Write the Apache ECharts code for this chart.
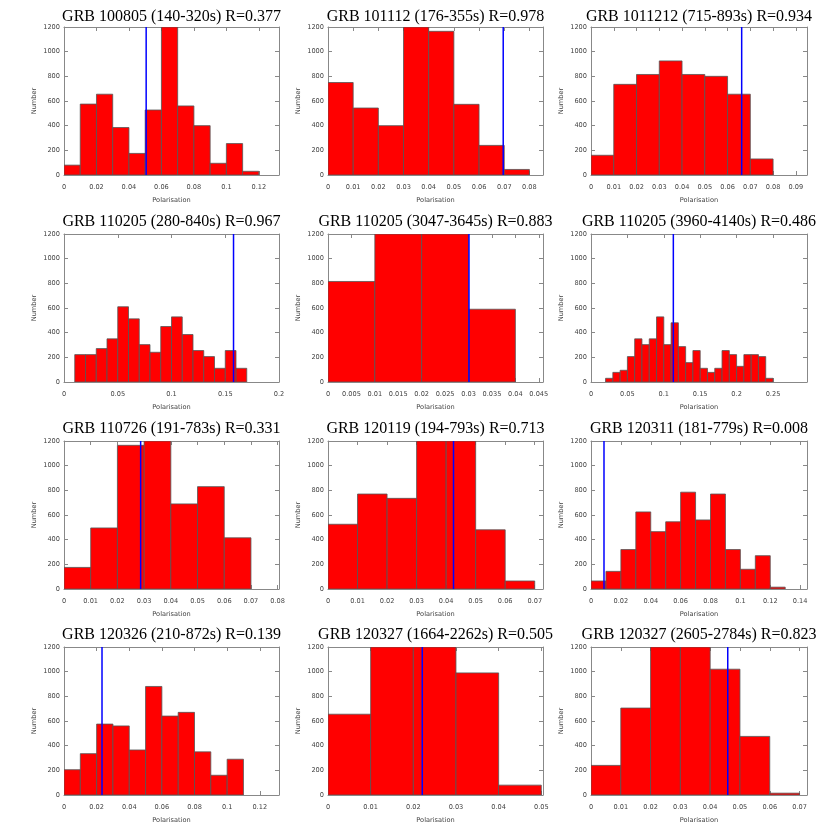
<!DOCTYPE html>
<html>
<head>
<meta charset="utf-8">
<script src="https://cdn.jsdelivr.net/npm/echarts@6/dist/echarts.min.js"></script>
<style>
html, body { margin: 0; padding: 0; background: #fff; }
#main { width: 827px; height: 827px; }
</style>
</head>
<body>
<div id="main"></div>
<script>
// panel titles, row by row
const titles = [
  'GRB 100805 (140-320s) R=0.377',
  'GRB 101112 (176-355s) R=0.978',
  'GRB 1011212 (715-893s) R=0.934',
  'GRB 110205 (280-840s) R=0.967',
  'GRB 110205 (3047-3645s) R=0.883',
  'GRB 110205 (3960-4140s) R=0.486',
  'GRB 110726 (191-783s) R=0.331',
  'GRB 120119 (194-793s) R=0.713',
  'GRB 120311 (181-779s) R=0.008',
  'GRB 120326 (210-872s) R=0.139',
  'GRB 120327 (1664-2262s) R=0.505',
  'GRB 120327 (2605-2784s) R=0.823'
];

// histogram bins are 0.01 wide, first bin starts at binStart
const binWidth = 0.01;
const binStart = [0, 0, 0, 0.01, 0, 0.02, 0, 0, 0, 0, 0, 0];

const counts1 = [80, 575, 655, 385, 175, 527, 1250, 560, 400, 95, 255, 30];
const counts2 = [750, 543, 400, 1250, 1165, 573, 240, 45];
const counts3 = [160, 735, 815, 925, 815, 800, 655, 130];
const counts4 = [222, 222, 271, 350, 610, 512, 303, 241, 450, 528, 385, 255, 206, 111, 255, 111];
const counts5 = [815, 1300, 1300, 590];
const counts6 = [30, 78, 95, 206, 350, 303, 350, 528, 303, 480, 287, 157, 255, 111, 78, 111, 255, 222, 127, 222, 222, 206, 30];
const counts7 = [175, 495, 1165, 1250, 690, 830, 415];
const counts8 = [525, 770, 735, 1250, 1250, 480, 65];
const counts9 = [65, 143, 320, 625, 465, 545, 785, 560, 770, 320, 160, 270, 15];
const counts10 = [205, 335, 575, 560, 365, 880, 640, 670, 350, 160, 290];
const counts11 = [655, 1300, 1300, 990, 80];
const counts12 = [240, 705, 1300, 1300, 1020, 475, 15];
const allCounts = [counts1, counts2, counts3, counts4, counts5, counts6,
                   counts7, counts8, counts9, counts10, counts11, counts12];

// blue marker (measured polarisation)
const blueLine = [0.0506, 0.0696, 0.0662, 0.1577, 0.0301, 0.1131, 0.0287, 0.0425, 0.0087, 0.0233, 0.0221, 0.0459];

// x axis range and tick step per panel
const xMax = [0.1324, 0.0854, 0.0949, 0.2, 0.0459, 0.2967, 0.0805, 0.0728, 0.1446, 0.1318, 0.0504, 0.0725];
const xStep = [0.02, 0.01, 0.01, 0.05, 0.005, 0.05, 0.01, 0.01, 0.02, 0.02, 0.01, 0.01];

// y axis
const yMax = 1200;
const yStep = 200;

// layout of the 4x3 panels
const colLeft = [64, 328, 591];
const colWidth = [215, 215, 216];
const rowTop = [27, 234, 441, 647];
const rowTitleTop = [9, 214, 421, 627];
const plotHeight = 148;

const frameColor = '#888';
const labelColor = '#444';
const smallFont = 'DejaVu Sans';

function xTicks(i) {
  let t = [];
  for (let k = 0; k * xStep[i] <= xMax[i] + 1e-9; k++) {
    t.push(Math.round(k * xStep[i] * 1e6) / 1e6);
  }
  return t;
}

let grid = [], xAxis = [], yAxis = [], series = [], title = [];

for (let i = 0; i < 12; i++) {
  let r = Math.floor(i / 3), c = i % 3;
  grid.push({
    left: colLeft[c], top: rowTop[r], width: colWidth[c], height: plotHeight,
    containLabel: false
  });
  title.push({
    text: titles[i],
    left: colLeft[c] + colWidth[c] / 2,
    top: rowTitleTop[r],
    textAlign: 'center',
    padding: 0,
    textStyle: { fontFamily: 'Liberation Serif', fontSize: 16, fontWeight: 'normal', color: '#000' }
  });

  let ticks = xTicks(i);
  let axisLine = { show: true, onZero: false, lineStyle: { color: frameColor, width: 1 } };
  // bottom x axis
  xAxis.push({
    type: 'value', gridIndex: i, min: 0, max: xMax[i], position: 'bottom',
    name: 'Polarisation', nameLocation: 'middle', nameGap: 22,
    nameTextStyle: { fontFamily: smallFont, fontSize: 6.6, color: labelColor },
    axisLine: axisLine,
    axisTick: { show: true, inside: true, length: 4, customValues: ticks, lineStyle: { color: frameColor } },
    axisLabel: {
      customValues: ticks, margin: 9, fontFamily: smallFont, fontSize: 6.6, color: labelColor,
      formatter: function (v) { return String(+v.toFixed(4)); }
    },
    splitLine: { show: false }
  });
  // top x axis (frame + mirrored ticks)
  xAxis.push({
    type: 'value', gridIndex: i, min: 0, max: xMax[i], position: 'top',
    axisLine: axisLine,
    axisTick: { show: true, inside: true, length: 4, customValues: ticks, lineStyle: { color: frameColor } },
    axisLabel: { show: false },
    splitLine: { show: false }
  });
  // left y axis
  yAxis.push({
    type: 'value', gridIndex: i, min: 0, max: yMax, interval: yStep, position: 'left',
    name: 'Number', nameLocation: 'middle', nameGap: 26, nameRotate: 90,
    nameTextStyle: { fontFamily: smallFont, fontSize: 6.6, color: labelColor },
    axisLine: axisLine,
    axisTick: { show: true, inside: true, length: 4, lineStyle: { color: frameColor } },
    axisLabel: {
      margin: 4, fontFamily: smallFont, fontSize: 6.6, color: labelColor,
      formatter: function (v) { return String(v); }
    },
    splitLine: { show: false }
  });
  // right y axis
  yAxis.push({
    type: 'value', gridIndex: i, min: 0, max: yMax, interval: yStep, position: 'right',
    axisLine: axisLine,
    axisTick: { show: true, inside: true, length: 4, lineStyle: { color: frameColor } },
    axisLabel: { show: false },
    splitLine: { show: false }
  });

  let data = allCounts[i].map(function (v, k) { return [binStart[i] + k * binWidth, v]; });
  series.push({
    type: 'custom',
    xAxisIndex: 2 * i, yAxisIndex: 2 * i,
    clip: true,
    encode: { x: 0, y: 1 },
    data: data,
    renderItem: function (params, api) {
      let x0 = api.value(0);
      let h = Math.min(api.value(1), yMax);
      let p0 = api.coord([x0, 0]);
      let p1 = api.coord([x0 + binWidth, h]);
      return {
        type: 'rect',
        shape: { x: p0[0], y: p1[1], width: p1[0] - p0[0], height: p0[1] - p1[1] },
        style: { fill: '#ff0000', stroke: '#555', lineWidth: 0.8 }
      };
    }
  });
  series.push({
    type: 'line',
    xAxisIndex: 2 * i, yAxisIndex: 2 * i,
    data: [[blueLine[i], 0], [blueLine[i], yMax]],
    symbol: 'none',
    z: 5,
    lineStyle: { color: '#0000ff', width: 1.5 }
  });
}

let chart = echarts.init(document.getElementById('main'));
chart.setOption({
  animation: false,
  backgroundColor: '#fff',
  title: title,
  grid: grid,
  xAxis: xAxis,
  yAxis: yAxis,
  series: series
});
</script>
</body>
</html>
